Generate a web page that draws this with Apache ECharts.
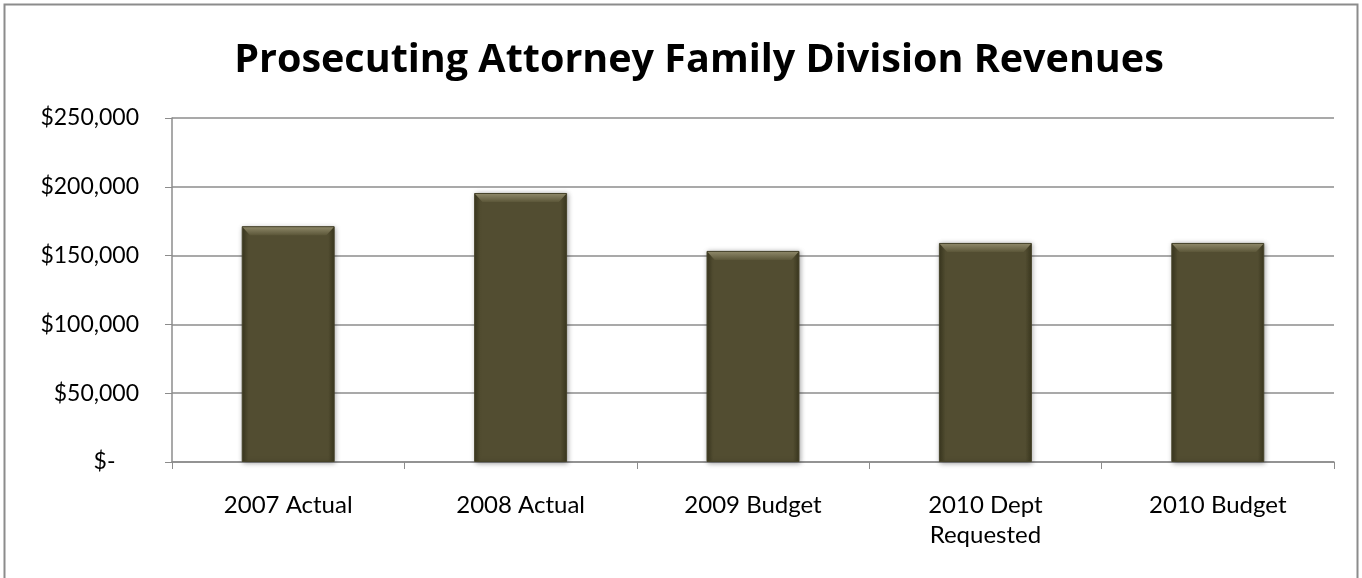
<!DOCTYPE html>
<html>
<head>
<meta charset="utf-8">
<title>Prosecuting Attorney Family Division Revenues</title>
<script src="https://cdn.jsdelivr.net/npm/echarts@6/dist/echarts.min.js"></script>
<style>
  html, body { margin: 0; padding: 0; background: #fff; }
  #chart { width: 1362px; height: 578px; }
</style>
</head>
<body>
<div id="chart"></div>
<script>
// chart data
const categories = ['2007 Actual', '2008 Actual', '2009 Budget', '2010 Dept\nRequested', '2010 Budget'];
const revenues = [171400, 195500, 153400, 159200, 159200];
const yTicks = [0, 50000, 100000, 150000, 200000, 250000];

const font = 'Lato, "Open Sans", sans-serif';

// accounting style labels: $250,000 / $-
function money(v) {
  if (v === 0) return '$-    ';
  return '$' + v.toLocaleString('en-US');
}

const chart = echarts.init(document.getElementById('chart'));

const option = {
  backgroundColor: '#fff',
  animation: false,
  title: {
    text: 'Prosecuting Attorney Family Division Revenues',
    left: 694,
    top: 36,
    textAlign: 'center',
    textStyle: { fontFamily: '"Open Sans", sans-serif', fontWeight: 'bold', fontSize: 39.5, color: '#000' }
  },
  graphic: [
    {
      type: 'rect',
      shape: { x: 4.5, y: 4.5, width: 1353, height: 580 },
      style: { fill: 'none', stroke: '#8c8c8c', lineWidth: 2 },
      silent: true
    }
  ],
  grid: { left: 172, right: 28, top: 118, bottom: 116 },
  xAxis: {
    type: 'category',
    data: categories,
    axisLine: { lineStyle: { color: '#8c8c8c', width: 1.5 } },
    axisTick: { show: true, length: 7, lineStyle: { color: '#8c8c8c' } },
    axisLabel: { fontFamily: font, fontSize: 24, color: '#000', margin: 28, lineHeight: 30, interval: 0 }
  },
  yAxis: {
    type: 'value',
    min: yTicks[0],
    max: yTicks[yTicks.length - 1],
    interval: yTicks[1] - yTicks[0],
    axisLine: { show: true, lineStyle: { color: '#8c8c8c', width: 1.5 } },
    axisTick: { show: true, length: 7, lineStyle: { color: '#8c8c8c' } },
    splitLine: { lineStyle: { color: '#8c8c8c', width: 1.5 } },
    axisLabel: { fontFamily: font, fontSize: 23, color: '#000', margin: 33, formatter: money }
  },
  series: [
    {
      type: 'bar',
      data: revenues,
      barWidth: '40%',
      itemStyle: {
        color: new echarts.graphic.LinearGradient(0, 0, 1, 0, [
          { offset: 0, color: '#3b381f' },
          { offset: 0.07, color: '#524d31' },
          { offset: 0.93, color: '#524d31' },
          { offset: 1, color: '#3b381f' }
        ]),
        borderColor: '#46432a',
        borderWidth: 1,
        shadowColor: 'rgba(0,0,0,0.35)',
        shadowBlur: 5,
        shadowOffsetX: 1,
        shadowOffsetY: 1
      }
    },
    {
      // lighter bevel along the top of each bar
      type: 'pictorialBar',
      data: revenues,
      barGap: '-100%',
      symbol: 'path://M0,0 L100,0 L92,10 L8,10 Z',
      symbolSize: [91, 8],
      symbolPosition: 'end',
      symbolOffset: [0, 1],
      silent: true,
      z: 3,
      itemStyle: {
        color: new echarts.graphic.LinearGradient(0, 0, 0, 1, [
          { offset: 0, color: '#8c8667' },
          { offset: 1, color: '#5c5739' }
        ])
      }
    }
  ]
};

chart.setOption(option);
</script>
</body>
</html>
